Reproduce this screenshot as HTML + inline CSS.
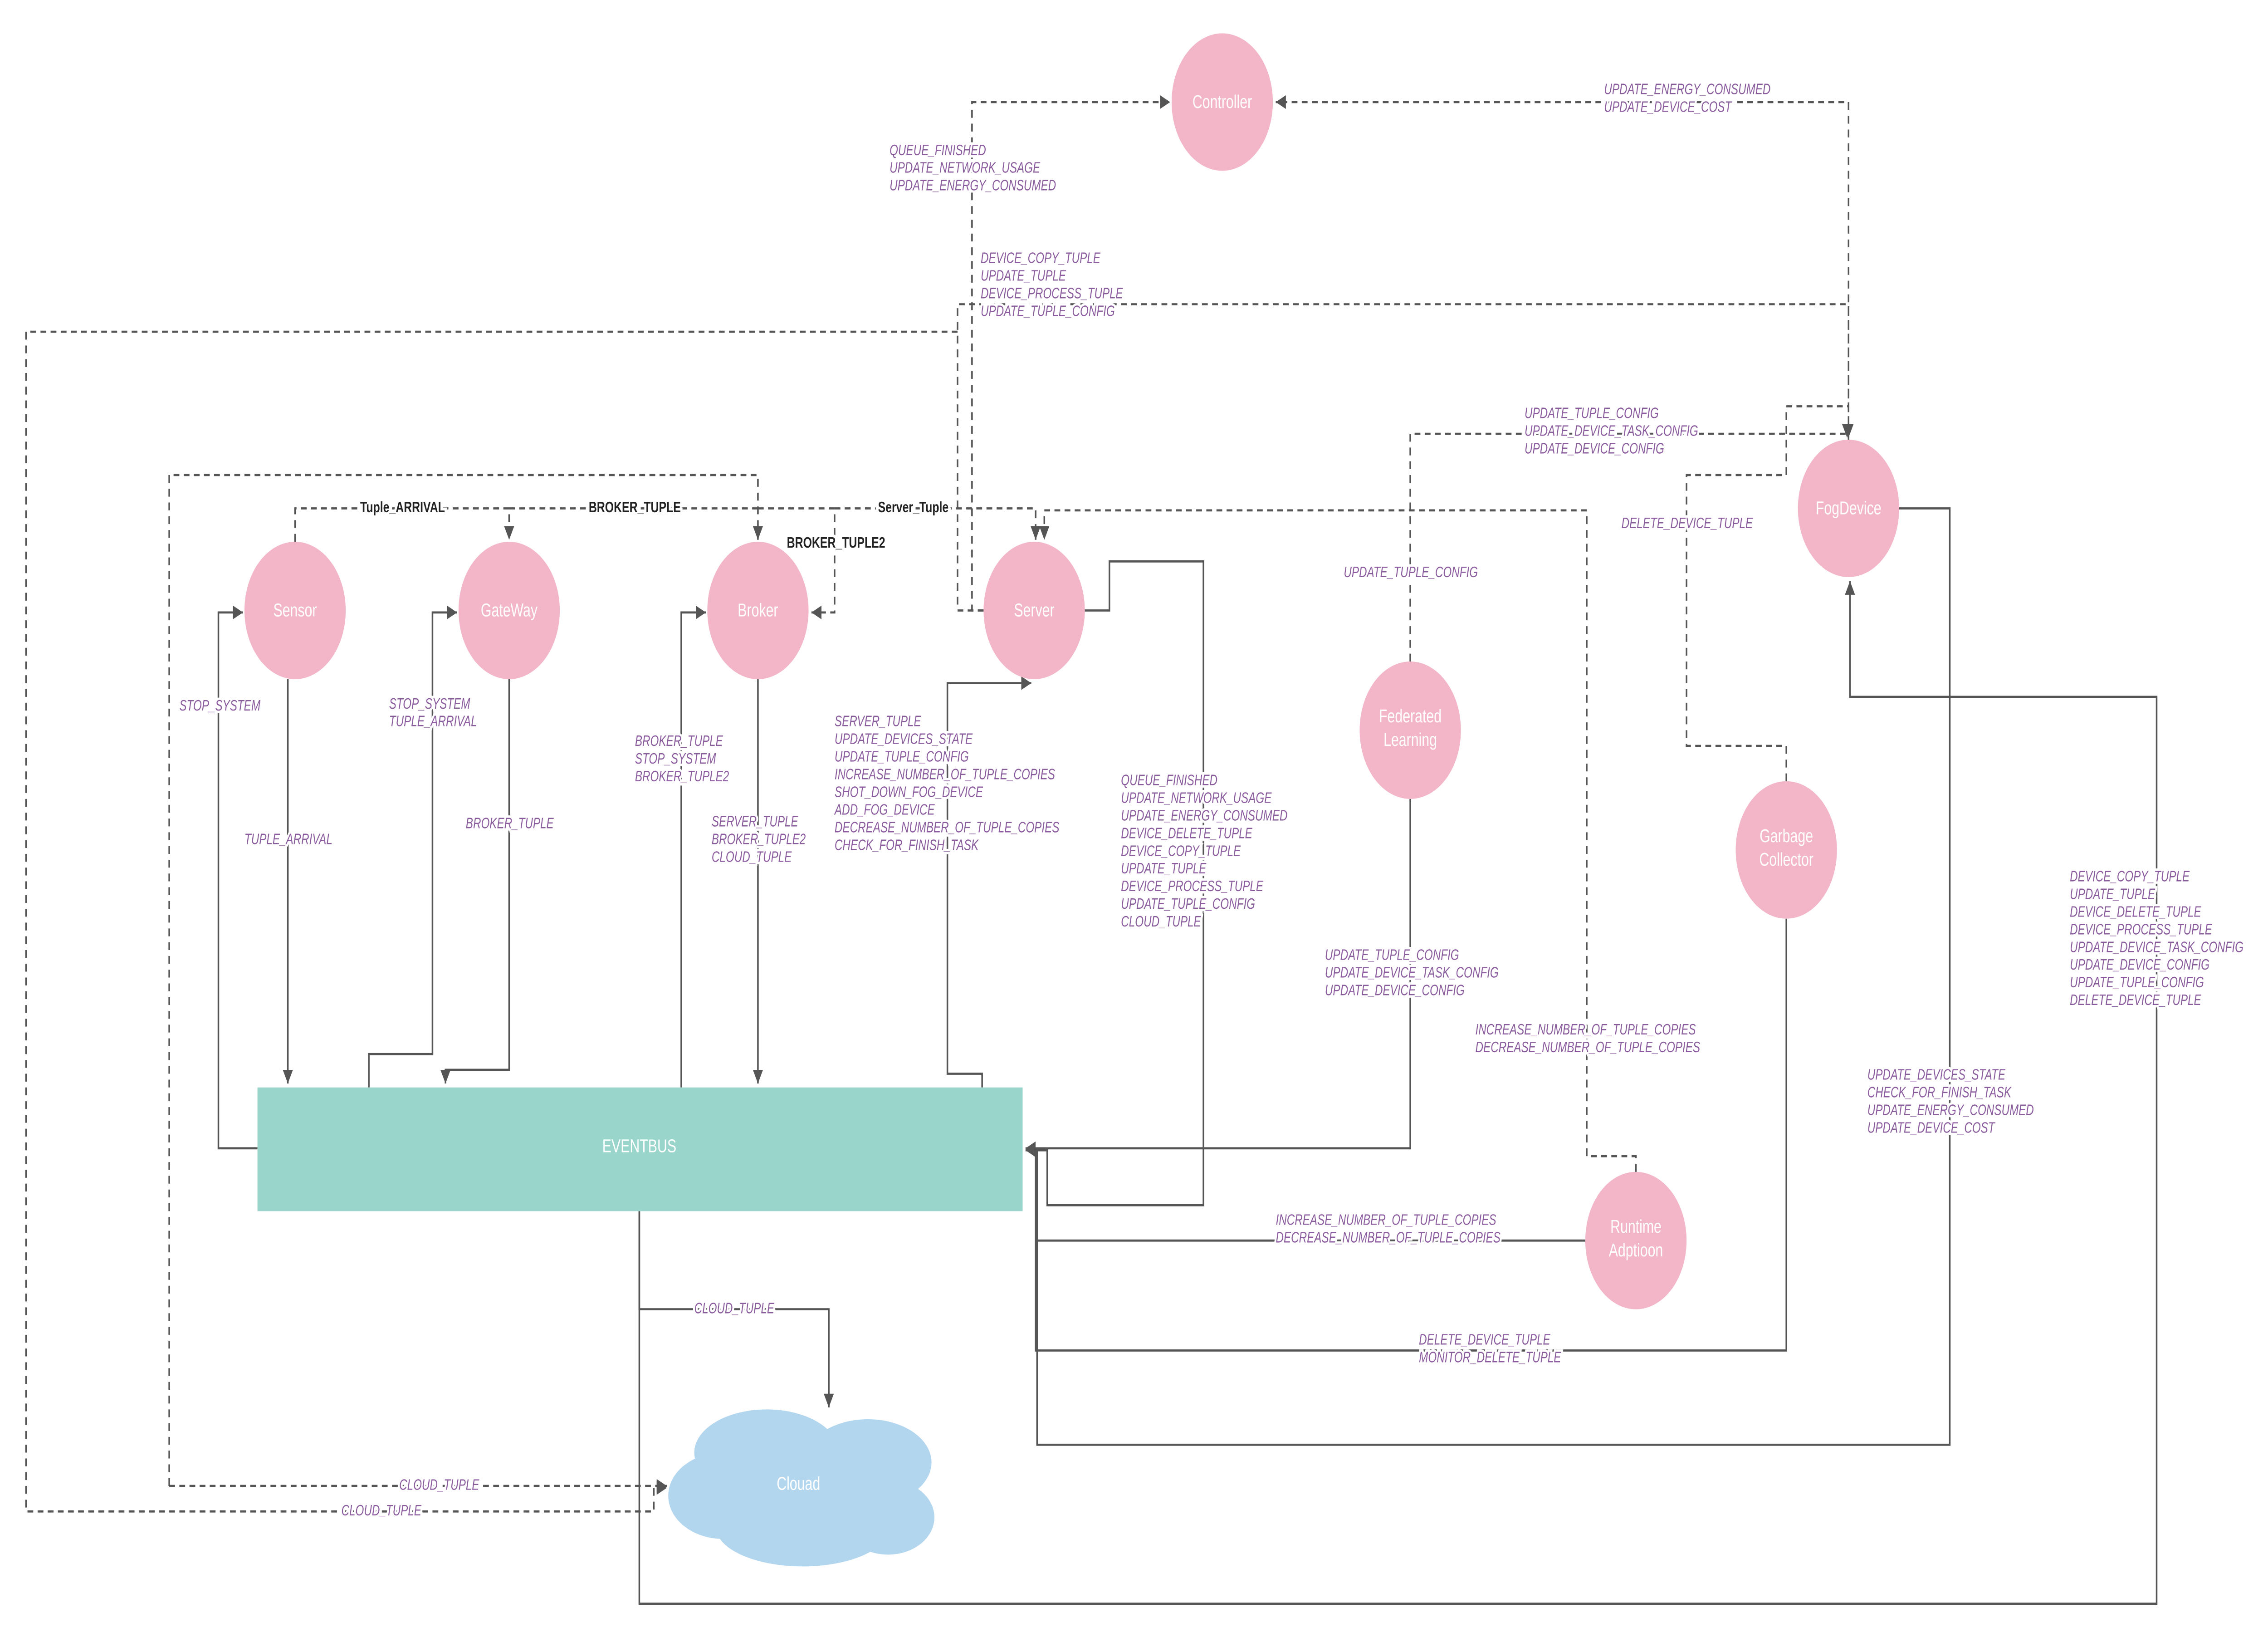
<!DOCTYPE html>
<html><head><meta charset="utf-8"><style>
html,body{margin:0;padding:0;background:#fff;width:100%;height:100%;overflow:hidden;}
svg{display:block;width:100vw;height:100vh;}
.l{fill:none;stroke:#555;stroke-width:1.1;}
.d{fill:none;stroke:#555;stroke-width:1.1;stroke-dasharray:4 3;}
.t{font-family:"Liberation Sans",sans-serif;font-size:7.6px;font-style:italic;fill:#8a5c9e;paint-order:stroke;stroke:#fff;stroke-width:2.5px;}
.b{font-family:"Liberation Sans",sans-serif;font-size:7.8px;font-weight:bold;fill:#222;paint-order:stroke;stroke:#fff;stroke-width:3px;}
.n{font-family:"Liberation Sans",sans-serif;font-size:9.5px;fill:#fff;text-anchor:middle;}
</style></head><body>
<svg xmlns="http://www.w3.org/2000/svg" viewBox="0 0 1568 836.5" preserveAspectRatio="none">
<defs>
<marker id="a" markerUnits="userSpaceOnUse" markerWidth="8" markerHeight="8" refX="7" refY="4" orient="auto"><path d="M0,0.5 L7,4 L0,7.5z" fill="#555"/></marker>
</defs>
<rect width="1568" height="836.5" fill="#fff"/>

<path class="l" d="M199,346 V552" marker-end="url(#a)"/>
<path class="l" d="M178,585 H151 V312 H168" marker-end="url(#a)"/>
<path class="l" d="M255,554 V537 H299 V312 H316" marker-end="url(#a)"/>
<path class="l" d="M352,346 V545 H308 V552" marker-end="url(#a)"/>
<path class="l" d="M471,554 V312 H488" marker-end="url(#a)"/>
<path class="l" d="M524,346 V552" marker-end="url(#a)"/>
<path class="l" d="M679,554 V547 H655 V348 H713" marker-end="url(#a)"/>
<path class="l" d="M750,311 H767 V286 H832 V614 H724 V586 H709" marker-end="url(#a)"/>
<path class="l" d="M975,407 V585 H709" marker-end="url(#a)"/>
<path class="l" d="M1235,468 V688 H716 V586"/>
<path class="l" d="M1096,632 H716"/>
<path class="l" d="M1313,259 H1348 V736 H717 V586"/>
<path class="l" d="M442,617 V817 H1491 V355 H1279 V296" marker-end="url(#a)"/>
<path class="l" d="M442,617 V667 H573 V717" marker-end="url(#a)"/>

<path class="d" d="M680,311 H672 V52 H809" marker-end="url(#a)"/>
<path class="d" d="M1278,224 V52 H882" marker-end="url(#a)"/>
<path class="d" d="M680,311 H662 V155 H1278 V223" marker-end="url(#a)"/>
<path class="d" d="M662,169 H18 V770 H452 V758 H461" marker-end="url(#a)"/>
<path class="d" d="M117,757 V242 H524 V275" marker-end="url(#a)"/>
<path class="d" d="M117,757 H461" marker-end="url(#a)"/>
<path class="d" d="M204,276 V259 H352 V275" marker-end="url(#a)"/>
<path class="d" d="M352,259 H524"/>
<path class="d" d="M524,259 H577 V312 H561" marker-end="url(#a)"/>
<path class="d" d="M577,259 H716 V275" marker-end="url(#a)"/>
<path class="d" d="M975,337 V221 H1277 V223" marker-end="url(#a)"/>
<path class="d" d="M1235,398 V380 H1166 V242 H1235 V207 H1278 V223"/>
<path class="d" d="M1131,597 V589 H1097 V260 H722 V275" marker-end="url(#a)"/>

<g fill="#f3b6c9">
<circle cx="845" cy="52" r="35"/>
<circle cx="1278" cy="259" r="35"/>
<circle cx="204" cy="311" r="35"/>
<circle cx="352" cy="311" r="35"/>
<circle cx="524" cy="311" r="35"/>
<circle cx="715" cy="311" r="35"/>
<circle cx="975" cy="372" r="35"/>
<circle cx="1235" cy="433" r="35"/>
<circle cx="1131" cy="632" r="35"/>
</g>
<rect x="178" y="554" width="529" height="63" fill="#99d5ca"/>
<g fill="#b3d6ef">
<ellipse cx="530" cy="740" rx="50" ry="22"/>
<ellipse cx="600" cy="745" rx="44" ry="22"/>
<ellipse cx="614" cy="773" rx="32" ry="19"/>
<ellipse cx="555" cy="778" rx="60" ry="20"/>
<ellipse cx="500" cy="762" rx="38" ry="22"/>
<ellipse cx="565" cy="757" rx="60" ry="28"/>
</g>

<text class="n" x="845" y="55">Controller</text>
<text class="n" x="1278" y="262">FogDevice</text>
<text class="n" x="204" y="314">Sensor</text>
<text class="n" x="352" y="314">GateWay</text>
<text class="n" x="524" y="314">Broker</text>
<text class="n" x="715" y="314">Server</text>
<text class="n" x="975" y="368">Federated</text>
<text class="n" x="975" y="380">Learning</text>
<text class="n" x="1235" y="429">Garbage</text>
<text class="n" x="1235" y="441">Collector</text>
<text class="n" x="1131" y="628">Runtime</text>
<text class="n" x="1131" y="640">Adptioon</text>
<text class="n" x="442" y="587">EVENTBUS</text>
<text class="n" x="552" y="759">Clouad</text>

<text class="b" x="249" y="261">Tuple_ARRIVAL</text>
<text class="b" x="407" y="261">BROKER_TUPLE</text>
<text class="b" x="607" y="261">Server_Tuple</text>
<text class="b" x="544" y="279">BROKER_TUPLE2</text>

<g class="t">
<text x="124" y="362">STOP_SYSTEM</text>
<text x="169" y="430">TUPLE_ARRIVAL</text>
<text x="269" y="361">STOP_SYSTEM</text><text x="269" y="370">TUPLE_ARRIVAL</text>
<text x="322" y="422">BROKER_TUPLE</text>
<text x="439" y="380">BROKER_TUPLE</text><text x="439" y="389">STOP_SYSTEM</text><text x="439" y="398">BROKER_TUPLE2</text>
<text x="492" y="421">SERVER_TUPLE</text><text x="492" y="430">BROKER_TUPLE2</text><text x="492" y="439">CLOUD_TUPLE</text>
<text x="577" y="370">SERVER_TUPLE</text><text x="577" y="379">UPDATE_DEVICES_STATE</text><text x="577" y="388">UPDATE_TUPLE_CONFIG</text><text x="577" y="397">INCREASE_NUMBER_OF_TUPLE_COPIES</text><text x="577" y="406">SHOT_DOWN_FOG_DEVICE</text><text x="577" y="415">ADD_FOG_DEVICE</text><text x="577" y="424">DECREASE_NUMBER_OF_TUPLE_COPIES</text><text x="577" y="433">CHECK_FOR_FINISH_TASK</text>
<text x="775" y="400">QUEUE_FINISHED</text><text x="775" y="409">UPDATE_NETWORK_USAGE</text><text x="775" y="418">UPDATE_ENERGY_CONSUMED</text><text x="775" y="427">DEVICE_DELETE_TUPLE</text><text x="775" y="436">DEVICE_COPY_TUPLE</text><text x="775" y="445">UPDATE_TUPLE</text><text x="775" y="454">DEVICE_PROCESS_TUPLE</text><text x="775" y="463">UPDATE_TUPLE_CONFIG</text><text x="775" y="472">CLOUD_TUPLE</text>
<text x="615" y="79">QUEUE_FINISHED</text><text x="615" y="88">UPDATE_NETWORK_USAGE</text><text x="615" y="97">UPDATE_ENERGY_CONSUMED</text>
<text x="678" y="134">DEVICE_COPY_TUPLE</text><text x="678" y="143">UPDATE_TUPLE</text><text x="678" y="152">DEVICE_PROCESS_TUPLE</text><text x="678" y="161">UPDATE_TUPLE_CONFIG</text>
<text x="1109" y="48">UPDATE_ENERGY_CONSUMED</text><text x="1109" y="57">UPDATE_DEVICE_COST</text>
<text x="1054" y="213">UPDATE_TUPLE_CONFIG</text><text x="1054" y="222">UPDATE_DEVICE_TASK_CONFIG</text><text x="1054" y="231">UPDATE_DEVICE_CONFIG</text>
<text x="929" y="294">UPDATE_TUPLE_CONFIG</text>
<text x="1121" y="269">DELETE_DEVICE_TUPLE</text>
<text x="916" y="489">UPDATE_TUPLE_CONFIG</text><text x="916" y="498">UPDATE_DEVICE_TASK_CONFIG</text><text x="916" y="507">UPDATE_DEVICE_CONFIG</text>
<text x="1020" y="527">INCREASE_NUMBER_OF_TUPLE_COPIES</text><text x="1020" y="536">DECREASE_NUMBER_OF_TUPLE_COPIES</text>
<text x="882" y="624">INCREASE_NUMBER_OF_TUPLE_COPIES</text><text x="882" y="633">DECREASE_NUMBER_OF_TUPLE_COPIES</text>
<text x="981" y="685">DELETE_DEVICE_TUPLE</text><text x="981" y="694">MONITOR_DELETE_TUPLE</text>
<text x="1291" y="550">UPDATE_DEVICES_STATE</text><text x="1291" y="559">CHECK_FOR_FINISH_TASK</text><text x="1291" y="568">UPDATE_ENERGY_CONSUMED</text><text x="1291" y="577">UPDATE_DEVICE_COST</text>
<text x="1431" y="449">DEVICE_COPY_TUPLE</text><text x="1431" y="458">UPDATE_TUPLE</text><text x="1431" y="467">DEVICE_DELETE_TUPLE</text><text x="1431" y="476">DEVICE_PROCESS_TUPLE</text><text x="1431" y="485">UPDATE_DEVICE_TASK_CONFIG</text><text x="1431" y="494">UPDATE_DEVICE_CONFIG</text><text x="1431" y="503">UPDATE_TUPLE_CONFIG</text><text x="1431" y="512">DELETE_DEVICE_TUPLE</text>
<text x="480" y="669">CLOUD_TUPLE</text>
<text x="276" y="759">CLOUD_TUPLE</text>
<text x="236" y="772">CLOUD_TUPLE</text>
</g>
</svg>
</body></html>
